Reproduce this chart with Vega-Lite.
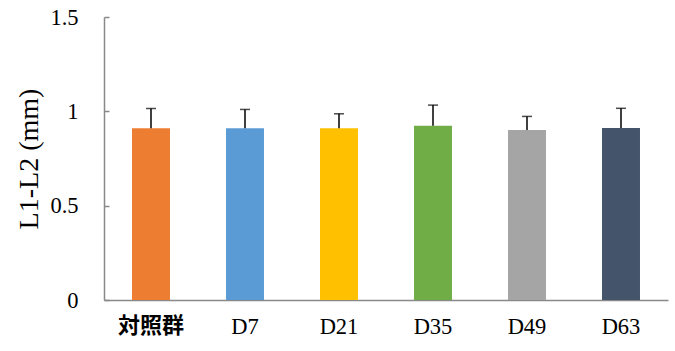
{
  "$schema": "https://vega.github.io/schema/vega-lite/v6.json",
  "width": 564,
  "height": 283,
  "autosize": {"type": "none"},
  "padding": {"left": 104, "top": 17, "right": 7, "bottom": 51},
  "background": "white",
  "config": {"view": {"stroke": null}, "font": "Liberation Serif"},
  "data": {
    "values": [
      {"group": "対照群", "mean": 0.91, "sd": 0.105, "color": "#ED7D31"},
      {"group": "D7", "mean": 0.91, "sd": 0.10, "color": "#5B9BD5"},
      {"group": "D21", "mean": 0.91, "sd": 0.077, "color": "#FFC000"},
      {"group": "D35", "mean": 0.923, "sd": 0.11, "color": "#70AD47"},
      {"group": "D49", "mean": 0.901, "sd": 0.072, "color": "#A5A5A5"},
      {"group": "D63", "mean": 0.911, "sd": 0.105, "color": "#44546A"}
    ]
  },
  "transform": [{"calculate": "datum.mean + datum.sd", "as": "upper"}],
  "encoding": {
    "x": {
      "field": "group",
      "type": "nominal",
      "sort": null,
      "scale": {"paddingInner": 0.596, "paddingOuter": 0.298},
      "axis": {
        "title": null,
        "labelAngle": 0,
        "ticks": false,
        "domainColor": "#898989",
        "domainWidth": 1.5,
        "labelColor": "#000000",
        "labelFont": {"condition": {"test": "datum.value === '対照群'", "value": "Noto Sans CJK JP"}, "value": "Liberation Serif"},
        "labelFontWeight": {"condition": {"test": "datum.value === '対照群'", "value": "bold"}, "value": "normal"},
        "labelFontSize": {"condition": {"test": "datum.value === '対照群'", "value": 22}, "value": 22.5},
        "labelPadding": 15
      }
    }
  },
  "layer": [
    {
      "mark": {"type": "bar"},
      "encoding": {
        "y": {
          "field": "mean",
          "type": "quantitative",
          "scale": {"domain": [0, 1.5], "nice": false},
          "axis": {
            "title": "L1-L2 (mm)",
            "titleFont": "Liberation Serif",
            "titleFontSize": 28,
            "titleFontWeight": "normal",
            "titleColor": "#000000",
            "titlePadding": 6,
            "values": [0, 0.5, 1, 1.5],
            "format": "~g",
            "grid": false,
            "domainColor": "#898989",
            "domainWidth": 1.5,
            "tickColor": "#898989",
            "tickSize": -5,
            "tickWidth": 1.5,
            "labelColor": "#000000",
            "labelFont": "Liberation Serif",
            "labelFontSize": 22.5,
            "labelPadding": 31
          }
        },
        "color": {"field": "color", "type": "nominal", "scale": null, "legend": null}
      }
    },
    {
      "mark": {"type": "rule", "color": "#000000", "strokeWidth": 1.5},
      "encoding": {
        "y": {"field": "mean", "type": "quantitative"},
        "y2": {"field": "upper"}
      }
    },
    {
      "mark": {"type": "tick", "color": "#000000", "size": 10, "thickness": 1.5, "orient": "horizontal"},
      "encoding": {
        "y": {"field": "upper", "type": "quantitative"}
      }
    }
  ]
}
